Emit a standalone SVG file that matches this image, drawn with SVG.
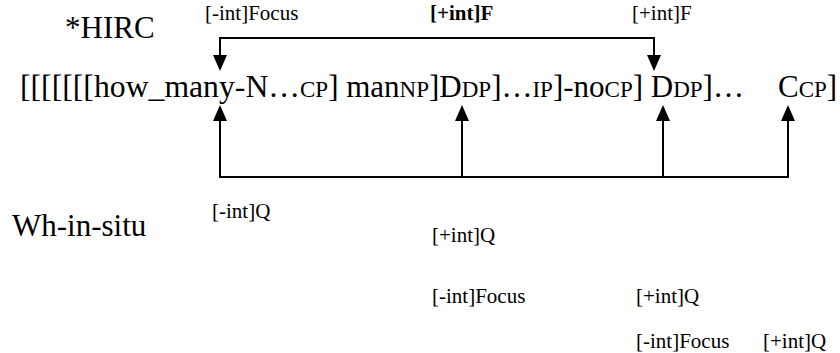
<svg xmlns="http://www.w3.org/2000/svg" width="840" height="353" viewBox="0 0 840 353">
<style>
text{font-family:"Liberation Serif","Times New Roman",serif;fill:#000}
.big{font-size:31px}
.sm{font-size:21px}
.sub{font-size:23px}
.b{font-weight:bold}
.ln{fill:none;stroke:#000;stroke-width:2}
.ah{fill:#000}
</style>
<rect width="840" height="353" fill="#fff"/>
<g id="labels">
<text id="hirc" class="big" x="65" y="38">*HIRC</text>
<text id="whinsitu" class="big" x="12" y="236">Wh-in-situ</text>
</g>
<g id="main-line">
<text class="big" y="97"><tspan x="20" textLength="280" lengthAdjust="spacingAndGlyphs">[[[[[[[how_many-N…</tspan><tspan class="sub">CP</tspan>] man<tspan class="sub">NP</tspan>]D<tspan class="sub">DP</tspan>]…<tspan class="sub">IP</tspan>]-no<tspan class="sub">CP</tspan>] D<tspan class="sub">DP</tspan>]…<tspan x="778">C</tspan><tspan class="sub">CP</tspan>]</text>
</g>
<g id="features">
<text class="sm" x="205" y="20">[-int]Focus</text>
<text class="sm b" x="430" y="20">[+int]F</text>
<text class="sm" x="632" y="20">[+int]F</text>
<text class="sm" x="212" y="218">[-int]Q</text>
<text class="sm" x="432" y="242">[+int]Q</text>
<text class="sm" x="432" y="303">[-int]Focus</text>
<text class="sm" x="636" y="303">[+int]Q</text>
<text class="sm" x="636" y="348">[-int]Focus</text>
<text class="sm" x="763" y="348">[+int]Q</text>
</g>
<g id="connectors">
<polyline class="ln" points="220,62 220,38 654,38 654,62"/>
<path class="ah" d="M213,55 L227,55 L220,71 Z"/>
<path class="ah" d="M647,55 L661,55 L654,71 Z"/>
<polyline class="ln" points="220,120 220,177 788,177 788,120"/>
<line class="ln" x1="462" y1="120" x2="462" y2="177"/>
<line class="ln" x1="663" y1="120" x2="663" y2="177"/>
<path class="ah" d="M213,121 L227,121 L220,105 Z"/>
<path class="ah" d="M455,121 L469,121 L462,105 Z"/>
<path class="ah" d="M656,121 L670,121 L663,105 Z"/>
<path class="ah" d="M781,121 L795,121 L788,105 Z"/>
</g>
</svg>
